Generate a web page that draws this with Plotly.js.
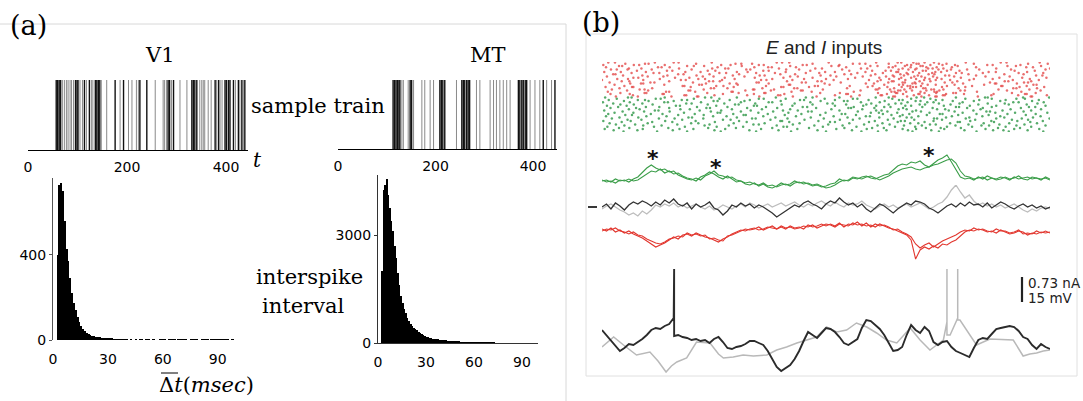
<!DOCTYPE html>
<html><head><meta charset="utf-8">
<script src="https://cdn.plot.ly/plotly-3.0.1.min.js"></script>
<style>html,body{margin:0;padding:0;background:#fff}#chart{width:1083px;height:401px}</style>
</head><body><div id="chart"></div>
<script>
// ---------- DATA ----------
// (a) sample trains: spike times (ms)
const v1SpikesDark = [57,60,63,66,96,99,101,114,124,136,139,142,145,176,193,226,240,283,286,294,331,334,337,341,378,385,398,401,405,408,415,425,432,438];
const v1SpikesLight = [70,74,78,81,85,88,92,105,110,118,128,131,148,159,186,203,210,219,223,257,273,276,280,290,307,321,347,351,354,357,364,370,381,388,392,419,428,435];
const mtSpikesDark = [113,116,119,122,125,127,148,151,209,212,215,219,254,257,260,264,267,270,370,373,377,380,384,387,421,445];
const mtSpikesLight = [131,134,144,155,172,178,189,196,243,284,291,312,319,325,332,339,346,353,394,404,414,428,438];
const trainTicks = [0,200,400];
// (a) interspike interval histograms, 1 ms bins from 0 to 100 ms
const v1Counts = [0,0,400,730,740,700,560,430,370,290,220,175,140,110,85,65,52,42,34,28,24,21,18,16,14,12,11,10,9,9,9,8,8,7,7,7,6,6,6,5,5,0,6,0,0,5,0,6,6,0,6,6,6,0,6,6,0,0,6,6,6,6,0,6,6,6,6,0,6,6,6,6,6,0,0,6,6,6,6,0,0,6,6,6,6,0,6,6,6,6,6,6,6,6,6,6,0,6,6,0];
const mtCounts = [0,0,2000,4250,4400,4550,4100,3750,3400,3100,2700,2350,1950,1600,1300,1100,950,820,700,610,540,480,430,385,350,315,285,255,225,200,180,165,150,138,125,115,106,98,92,86,80,75,70,66,62,58,54,51,48,45,42,40,38,36,34,32,30,29,28,27,26,25,24,23,22,21,20,19,18,17,16,15,15,14,14,13,13,12,12,11,11,10,10,10,9,9,9,8,8,8,8,7,7,7,7,6,6,6,6,6];
const histXTicks = [0,30,60,90];
const v1YTicks = [0,400];
const mtYTicks = [0,3000];
// (b) E and I input raster: spike times (ms), one list per input neuron
const redRows = [
[14,29,118,160,171,245,390,402,418,506,612,660,668,695,720,741,812,890,903,977],
[52,96,104,210,298,311,335,470,560,575,588,640,702,707,752,769,830,951,995],
[3,71,83,140,266,287,350,361,448,457,530,681,690,733,760,788,860,872,934],
[38,45,190,205,228,312,420,512,528,599,615,655,676,711,716,794,905,924,980],
[9,125,133,151,258,340,371,379,433,545,640,649,689,724,747,781,835,947,962],
[60,88,172,246,275,282,395,476,491,578,592,671,702,728,738,762,880,1000],
[20,33,57,111,200,322,331,411,440,536,662,684,699,751,779,815,842,913,990],
[78,145,157,236,253,360,372,465,552,603,633,645,716,723,770,798,921,966],
[5,42,98,186,220,301,325,410,498,520,588,657,661,694,744,757,863,879,949],
[66,115,128,262,277,344,386,455,485,570,627,680,708,737,790,803,850,930,985],
[25,30,170,182,240,306,398,431,541,556,610,666,683,729,742,818,898,941],
[47,90,146,211,292,352,363,488,510,600,649,674,705,766,775,835,969,983],
[11,102,137,225,249,318,420,437,523,582,634,652,697,713,739,786,856,910],
[70,81,163,195,274,341,405,470,565,619,668,690,721,748,801,887,938,992],
[34,58,129,215,230,296,380,451,500,549,641,663,701,731,758,830,872,955],
[0,92,176,187,268,355,367,425,517,596,622,677,719,745,777,820,917,975],
[44,61,150,239,248,263,413,481,490,615,647,651,709,733,793,899,907,958],
[17,108,117,203,345,350,446,455,533,639,671,676,698,765,782,866,942,951],
[63,87,92,232,285,300,372,497,589,607,693,700,715,806,877,880,926],
[28,139,217,223,303,417,420,508,630,663,672,727,745,787,853,963,970],
[50,180,184,255,271,366,475,482,553,604,682,688,712,770,826,891,894,948],
[8,67,70,198,294,400,405,462,593,637,669,694,701,759,811,932,987],
[39,112,243,250,280,358,429,436,547,619,652,688,717,722,796,918,925,971],
[22,84,95,227,337,340,384,493,611,615,643,675,735,741,762,885,954],
[56,103,193,197,320,377,444,448,577,661,666,692,724,753,800,810,904,979],
[13,143,150,208,289,292,423,468,562,646,653,679,711,742,748,837,936],
[41,95,99,235,305,362,365,487,531,616,656,659,720,746,784,790,915,968],
[19,62,135,138,270,339,407,545,549,636,672,706,709,768,808,874,944,948],
[69,184,188,251,324,393,398,520,575,622,625,696,730,761,765,869,929,993],
[31,80,155,212,215,351,426,479,556,650,654,681,713,744,747,839,957,960]];
const greenRows = [
[7,58,66,140,230,244,301,388,455,470,530,611,640,702,719,790,855,861,940,998],
[33,120,131,205,262,350,361,410,497,560,570,648,690,733,811,870,925,944],
[15,80,96,178,190,285,330,442,451,520,595,663,671,745,760,842,901,975],
[49,104,160,249,258,318,399,488,540,548,631,700,711,783,830,889,960],
[2,62,139,147,221,310,372,380,465,578,620,682,726,740,805,918,930,986],
[25,90,188,200,273,342,430,503,515,601,655,668,752,798,861,899,972],
[41,71,113,236,297,305,401,470,545,590,640,709,721,778,840,908,948],
[11,55,165,174,255,339,346,425,520,583,612,677,690,763,821,880,990],
[36,98,128,212,280,366,448,458,562,630,644,715,790,797,870,953,967],
[19,76,150,233,241,324,391,478,550,556,608,672,738,815,850,935],
[60,84,175,196,290,357,420,512,581,662,680,748,766,845,912,980],
[5,118,126,218,266,332,404,437,530,612,624,701,774,829,894,958],
[46,94,151,243,310,382,460,468,571,637,693,712,787,858,866,941],
[28,70,183,258,264,349,416,499,600,618,659,731,805,878,922,994],
[14,109,135,207,293,370,445,535,543,627,686,754,760,836,905,968],
[52,67,170,227,316,321,408,487,567,646,671,725,795,863,946],
[9,99,144,248,278,360,433,517,589,598,665,706,781,849,889,979],
[39,81,193,201,301,387,466,548,619,680,691,768,820,898,962],
[22,127,162,226,335,343,414,495,575,651,741,748,812,880,937,999],
[57,88,179,270,287,376,452,531,560,638,697,759,833,915,951],
[3,64,141,209,306,398,402,483,609,667,676,740,822,869,927,984],
[44,112,157,252,323,418,509,520,596,660,720,794,799,875,956],
[17,102,199,215,294,363,441,552,626,688,706,777,852,909,971],
[31,74,168,240,338,350,426,505,585,642,732,745,818,887,943],
[50,92,133,229,283,390,474,537,615,674,714,789,847,864,925,990],
[12,116,185,256,315,405,413,493,568,654,699,770,826,901,958],
[38,61,148,237,299,380,462,541,603,629,723,756,801,884,933],
[6,91,173,204,275,355,436,523,591,671,701,764,856,920,976],
[26,79,158,251,329,394,481,558,635,683,735,809,873,896,950],
[48,123,190,265,344,422,500,579,616,693,752,836,908,985]];
// (b) input currents / voltage, sampled every 10 ms (arbitrary units, deflection from baseline)
const sampleStepMs = 10;
const greenA = [-1,0,-2,1,-1,0,-2,1,3,8,12,15,12,10,11,8,9,5,3,1,0,2,0,4,6,9,5,4,2,3,0,-1,-3,-2,-4,-5,-3,-6,-5,-7,-5,-4,-6,-3,-2,-4,-3,-5,-4,-6,-8,-7,-5,-2,0,-1,2,1,3,4,2,1,3,5,6,10,14,16,15,18,17,19,15,13,17,20,22,25,18,10,3,1,2,0,3,1,4,2,0,1,3,1,2,4,1,0,3,2,1,2,0];
const greenB = [0,-2,-1,-3,0,-1,1,-1,0,3,6,9,8,11,7,9,6,7,4,2,1,-1,3,5,8,6,3,1,4,1,-2,-1,-4,-5,-3,-6,-4,-7,-8,-6,-3,-5,-4,-1,-3,-2,-4,-6,-5,-7,-6,-4,-3,1,-1,0,3,2,1,3,4,2,0,2,4,7,9,11,12,13,11,10,12,13,15,16,18,20,21,17,9,4,3,1,2,3,0,2,1,3,2,0,3,1,2,3,1,2,0,3,1];
const midBlack = [0,3,-2,4,1,-3,2,5,3,6,4,1,5,2,7,4,8,3,1,4,-2,3,0,2,5,-1,-3,-8,-4,2,0,4,1,3,-1,2,0,-3,-6,-10,-7,-4,-1,2,0,4,6,3,1,-2,3,6,4,9,5,2,4,0,3,-2,-5,-1,3,1,-3,-6,-2,1,4,2,6,5,3,-1,-3,-6,-2,1,3,0,4,1,5,2,3,0,4,-1,2,5,3,0,-2,1,3,0,2,-1,1,-2,0];
const midGray = [-2,1,3,0,-3,-5,-8,-6,-9,-4,-7,-3,2,0,3,1,4,0,2,-1,1,3,0,-2,1,-3,-1,2,0,-2,1,3,0,4,2,-1,1,3,0,2,4,1,3,5,2,0,3,1,4,6,3,1,5,2,0,4,2,3,6,2,0,-2,1,3,0,2,-1,1,3,0,2,4,1,-2,0,3,5,10,17,22,15,9,12,6,2,4,1,3,0,2,-1,1,3,0,-3,-5,-2,-4,-1,0,-2];
const redA = [3,1,4,0,2,-1,1,-2,-4,-6,-9,-12,-15,-13,-11,-8,-5,-7,-3,-2,-4,-1,-3,-5,-6,-8,-10,-7,-5,-2,0,2,1,3,4,2,3,5,4,3,6,4,5,3,4,6,5,7,4,6,8,7,5,8,7,6,9,7,8,6,7,5,8,6,4,3,1,-1,-3,-8,-27,-18,-15,-17,-14,-16,-12,-13,-10,-8,-4,0,2,1,3,2,0,1,-1,2,0,-2,-1,1,0,-3,-1,-2,0,-1,0];
const redB = [1,3,2,4,1,0,-2,0,-3,-4,-7,-9,-11,-12,-10,-7,-6,-4,-5,-1,-3,-2,-4,-3,-7,-6,-8,-9,-4,-3,-1,1,3,2,3,5,2,4,6,3,5,3,6,4,5,3,7,5,6,8,6,8,6,9,5,8,7,10,6,9,5,8,6,7,5,2,3,0,-2,-5,-12,-16,-13,-11,-15,-12,-9,-7,-5,-3,0,2,1,4,2,3,1,0,3,1,1,-1,0,2,-2,-1,-2,1,-1,1,-1];
// (b) bottom: membrane potential of two cells (ms, arbitrary units); spikes drawn as repeated times
const cellBlackT = [0,10,20,30,40,50,60,70,80,90,100,110,120,130,140,150,160,161,161,170,180,190,200,210,220,230,240,250,260,270,280,290,300,310,320,330,340,350,360,370,380,390,400,410,420,430,440,450,460,470,480,490,500,510,520,530,540,550,560,570,580,590,600,610,620,630,640,650,660,670,680,690,700,710,720,730,740,750,760,770,780,790,800,810,820,830,840,850,860,870,880,890,900,910,920,930,940,950,960,970,980,990,1000];
const cellBlackV = [3,-2,-8,-13,-18,-15,-11,-12,-9,-6,-2,3,5,4,7,9,15,64,-3,-2,-4,-5,-7,-6,-8,-7,-10,-6,-4,-9,-15,-16,-14,-13,-11,-8,-8,-10,-12,-18,-26,-34,-38,-35,-32,-26,-18,-8,1,-2,-5,0,5,4,1,-4,-10,-12,-9,-6,5,13,12,8,4,-2,-10,-18,-17,-14,-2,8,3,0,6,2,-9,-12,-9,-8,-14,-18,-20,-22,-24,-15,-7,-5,-6,-1,4,5,6,7,6,2,-4,-6,-12,-16,-11,-14,-16];
const cellGrayT = [0,26,48,77,107,125,143,155,167,189,211,241,260,271,293,315,338,368,390,412,435,457,479,501,524,546,568,591,613,635,658,674,688,710,722,732,747,762,770,770,770,777,786,794,794,794,799,814,836,866,896,918,940,955,970,985,1000];
const cellGrayV = [-14,-4,-12,-22,-19,-28,-39,-33,-29,-25,-9,-10,-21,-25,-24,-22,-23,-22,-17,-14,-10,-7,-4,6,1,3,10,6,0,-7,-10,-2,5,-7,-12,-17,-12,-7,11,64,-2,-2,8,15,64,13,13,3,-12,-6,-7,-7,-23,-21,-20,-18,-17];
const starTimes = [114,254,730];
const starLevels = [22,13,25];

// ---------- LAYOUT HELPERS (pixel -> paper) ----------
const W = 1083, H = 401;
const px = p => p / W, py = p => 1 - p / H;
const SERIF = 'DejaVu Serif', SANS = 'DejaVu Sans';

function spikeLines(times){ const x=[],y=[]; times.forEach(t=>{x.push(t,t,null);y.push(0,1,null);}); return {x,y}; }
function rasterXY(rows, offset){ const x=[],y=[]; rows.forEach((r,i)=>r.forEach(t=>{x.push(t);y.push(i+1+offset);})); return {x,y}; }
const stepT = arr => arr.map((_,i)=>i*sampleStepMs);
const binCenters = arr => arr.map((_,i)=>i+0.5);

const traces = [];
[[v1SpikesLight,'#8a8a8a',1,'x','y'],[v1SpikesDark,'#111',1.4,'x','y'],
 [mtSpikesLight,'#8a8a8a',1,'x2','y2'],[mtSpikesDark,'#111',1.4,'x2','y2']].forEach(([s,c,w,xa,ya])=>{
  const d = spikeLines(s);
  traces.push({type:'scatter',mode:'lines',x:d.x,y:d.y,xaxis:xa,yaxis:ya,line:{color:c,width:w},hoverinfo:'skip'});
});
traces.push({type:'bar',x:binCenters(v1Counts),y:v1Counts,width:1,xaxis:'x3',yaxis:'y3',marker:{color:'#000',line:{width:0}}});
traces.push({type:'bar',x:binCenters(mtCounts),y:mtCounts,width:1,xaxis:'x4',yaxis:'y4',marker:{color:'#000',line:{width:0}}});
const rr = rasterXY(redRows,0), gr = rasterXY(greenRows,30);
traces.push({type:'scatter',mode:'markers',x:rr.x,y:rr.y,xaxis:'x5',yaxis:'y5',marker:{size:2.5,color:'rgba(228,75,75,0.8)'}});
traces.push({type:'scatter',mode:'markers',x:gr.x,y:gr.y,xaxis:'x5',yaxis:'y5',marker:{size:2.5,color:'rgba(45,150,70,0.8)'}});
const ln = (x,y,ya,c,w)=>({type:'scatter',mode:'lines',x,y,xaxis:'x5',yaxis:ya,line:{color:c,width:w},hoverinfo:'skip'});
traces.push(ln(stepT(greenA),greenA,'y6','#3a9d48',1.1));
traces.push(ln(stepT(greenB),greenB,'y6','#3a9d48',1.1));
traces.push(ln(stepT(midGray),midGray,'y7','#bdbdbd',1.3));
traces.push(ln(stepT(midBlack),midBlack,'y7','#333',1.3));
traces.push(ln(stepT(redA),redA,'y8','#e2372f',1.1));
traces.push(ln(stepT(redB),redB,'y8','#e2372f',1.1));
traces.push(ln(cellGrayT,cellGrayV,'y9','#b9b9b9',1.5));
traces.push(ln(cellBlackT,cellBlackV,'y9','#2b2b2b',1.9));

const tickFont = {family:SANS,size:14,color:'#000'};
const hidden = {visible:false,showgrid:false,zeroline:false,fixedrange:true};
const layout = {
  width:W,height:H,margin:{l:0,r:0,t:0,b:0},paper_bgcolor:'#fff',plot_bgcolor:'rgba(0,0,0,0)',
  showlegend:false,bargap:0,font:{family:SANS,color:'#000'},
  xaxis:{domain:[px(28),px(248)],range:[0,444.4],anchor:'y',showline:true,linecolor:'#000',linewidth:1,tickvals:trainTicks,ticks:'outside',ticklen:4,tickcolor:'rgba(0,0,0,0)',showgrid:false,zeroline:false,tickfont:tickFont},
  yaxis:Object.assign({domain:[py(150),py(80)],range:[0,1],anchor:'x'},hidden),
  xaxis2:{domain:[px(338),px(557)],range:[0,449.2],anchor:'y2',showline:true,linecolor:'#000',linewidth:1,tickvals:trainTicks,ticks:'outside',ticklen:4,tickcolor:'rgba(0,0,0,0)',showgrid:false,zeroline:false,tickfont:tickFont},
  yaxis2:Object.assign({domain:[py(149),py(80)],range:[0,1],anchor:'x2'},hidden),
  xaxis3:{domain:[px(53),px(236)],range:[0,100],anchor:'y3',showline:false,tickvals:histXTicks,ticks:'outside',ticklen:6,tickcolor:'rgba(0,0,0,0)',showgrid:false,zeroline:false,tickfont:tickFont},
  yaxis3:{domain:[py(340),py(178)],range:[0,762],anchor:'x3',showline:true,linecolor:'#555',linewidth:1,tickvals:v1YTicks,ticks:'outside',ticklen:3,tickcolor:'#555',showgrid:false,zeroline:false,tickfont:tickFont},
  xaxis4:{domain:[px(378),px(538)],range:[0,100],anchor:'y4',showline:true,linecolor:'#333',linewidth:1,tickvals:histXTicks,ticks:'outside',ticklen:6,tickcolor:'rgba(0,0,0,0)',showgrid:false,zeroline:false,tickfont:tickFont},
  yaxis4:{domain:[py(343),py(175)],range:[0,4667],anchor:'x4',showline:true,linecolor:'#333',linewidth:1,tickvals:mtYTicks,ticks:'outside',ticklen:3,tickcolor:'#333',showgrid:false,zeroline:false,tickfont:tickFont},
  xaxis5:Object.assign({domain:[px(602),px(1050)],range:[0,1000],anchor:'y5'},hidden),
  yaxis5:Object.assign({domain:[py(132),py(62)],range:[60.5,0.5],anchor:'x5'},hidden),
  yaxis6:Object.assign({domain:[py(195),py(140)],range:[-15,40],anchor:'x5'},hidden),
  yaxis7:Object.assign({domain:[py(225),py(185)],range:[-18,22],anchor:'x5'},hidden),
  yaxis8:Object.assign({domain:[py(262),py(218)],range:[-30,14],anchor:'x5'},hidden),
  yaxis9:Object.assign({domain:[py(375),py(262)],range:[-42,71],anchor:'x5'},hidden),
  shapes:[
    {type:'line',xref:'paper',yref:'paper',x0:0,x1:px(566),y0:py(24),y1:py(24),line:{color:'#d8d8d8',width:1}},
    {type:'line',xref:'paper',yref:'paper',x0:px(566),x1:px(566),y0:py(24),y1:py(401),line:{color:'#d8d8d8',width:1}},
    {type:'rect',xref:'paper',yref:'paper',x0:px(586),x1:px(1077),y0:py(376),y1:py(34),line:{color:'#e0e0e0',width:1}},
    {type:'line',xref:'paper',yref:'paper',x0:px(1022),x1:px(1022),y0:py(302),y1:py(277),line:{color:'#222',width:2.2}},
    {type:'line',xref:'paper',yref:'paper',x0:px(588),x1:px(597),y0:py(207),y1:py(207),line:{color:'#222',width:1.8}},
    {type:'line',xref:'paper',yref:'paper',x0:px(161),x1:px(178),y0:py(373),y1:py(373),line:{color:'#000',width:1}}
  ],
  annotations:[]
};
const ann = (text,x,y,font,xanchor)=>layout.annotations.push({text,x:px(x),y:py(y),xref:'paper',yref:'paper',showarrow:false,xanchor:xanchor||'center',yanchor:'middle',font});
ann('(a)',28,25,{family:SERIF,size:27,color:'#000'});
ann('(b)',601,23,{family:SERIF,size:27,color:'#000'});
ann('V1',160,55,{family:SERIF,size:21,color:'#000'});
ann('MT',488,55,{family:SERIF,size:21,color:'#000'});
ann('sample train',318,106,{family:SERIF,size:21,color:'#000'});
ann('<i>t</i>',257,160,{family:SERIF,size:20,color:'#000'});
ann('interspike',309,277,{family:SERIF,size:21,color:'#000'});
ann('interval',303,306,{family:SERIF,size:21,color:'#000'});
ann('Δ<i>t</i>(<i>msec</i>)',206,385,{family:SERIF,size:21,color:'#000'});
ann('<i>E</i> and <i>I</i> inputs',824,47,{family:'Liberation Sans',size:19,color:'#222'});
ann('0.73 nA',1026,283,{family:SANS,size:13.5,color:'#222'},'left');
ann('15 mV',1026,298,{family:SANS,size:13.5,color:'#222'},'left');
starTimes.forEach((t,i)=>layout.annotations.push({text:'<b>*</b>',x:t,y:starLevels[i],xref:'x5',yref:'y6',showarrow:false,xanchor:'center',yanchor:'middle',font:{family:SANS,size:22,color:'#111'}}));

Plotly.newPlot('chart',traces,layout,{displayModeBar:false,staticPlot:true});
</script></body></html>
